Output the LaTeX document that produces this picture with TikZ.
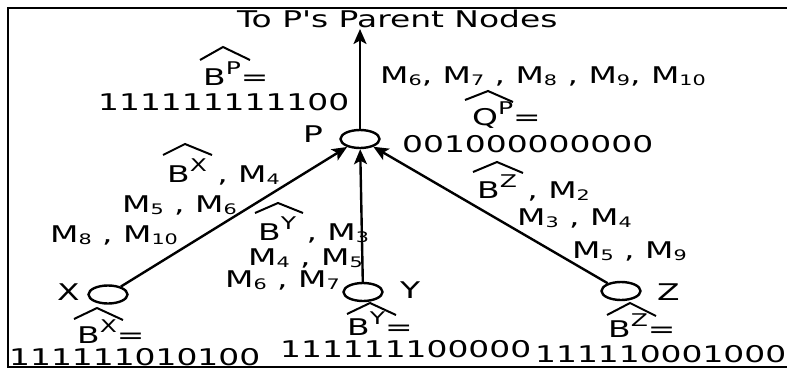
\documentclass[tikz,border=0pt]{standalone}
\usepackage{fontspec}
\newfontfamily\dv[FakeStretch=1.43]{DejaVu Sans}
\usetikzlibrary{shapes.geometric,arrows.meta}
\newcommand\sps[1]{\raisebox{11pt}{\fontsize{17.5}{18}\selectfont #1}}
\newcommand\sbs[1]{\raisebox{-2pt}{\fontsize{14.5}{15}\selectfont #1}}
\tikzset{
  lbl/.style={anchor=base west, inner sep=0pt, font=\dv\fontsize{23}{25}\selectfont},
  vert/.style={ellipse, draw, line width=2.4pt, minimum width=39pt, minimum height=18pt, inner sep=0pt},
  conn/.style={line width=2.4pt, -{Stealth[length=15pt,width=13pt,inset=3.5pt]}},
  hatline/.style={line width=2pt},
  frame/.style={line width=2.5pt}
}
\begin{document}
\begin{tikzpicture}[x=1pt,y=-1pt]
\useasboundingbox (0,0) rectangle (787,370);
\fill[white] (0,0) rectangle (787,370);
% frame
\draw[frame] (787,8) -- (8,8) -- (8,367) -- (787,367);
% vertices
\node[vert] (P) at (360,139) {};
\node[vert] (X) at (108,294.5) {};
\node[vert] (Y) at (363,292) {};
\node[vert] (Z) at (621,291) {};
\coordinate (top) at (360,29);
% connectors
\draw[conn] (P) -- (top);
\draw[conn] (X) -- (P);
\draw[conn] (Y) -- (P);
\draw[conn] (Z) -- (P);
% vertex labels
\node[lbl] (Ptitle) at (237,27) {To P's Parent Nodes};
\node[lbl] (Plbl) at (303,142) {P};
\node[lbl] (Xlbl) at (57,300) {X};
\node[lbl] (Ylbl) at (400,298) {Y};
\node[lbl] (Zlbl) at (657,300) {Z};
% P labels
\node[lbl] (BP) at (203,85) {B\sps{P}=};
\node[lbl] (BPv) at (98,110) {111111111100};
\node[lbl] (Mup) at (380,83) {M\sbs{6}, M\sbs{7} , M\sbs{8} , M\sbs{9}, M\sbs{10}};
\node[lbl] (QP) at (472,125) {Q\sps{P}=};
\node[lbl] (QPv) at (402,152) {001000000000};
% X edge labels
\node[lbl] (xa) at (167,182) {B\sps{X} , M\sbs{4}};
\node[lbl] (xb) at (122,212) {M\sbs{5} , M\sbs{6}};
\node[lbl] (xc) at (50,242) {M\sbs{8} , M\sbs{10}};
% Y edge labels
\node[lbl] (ya) at (258,240) {B\sps{Y} , M\sbs{3}};
\node[lbl] (yb) at (248,265) {M\sbs{4} , M\sbs{5}};
\node[lbl] (yc) at (225,287) {M\sbs{6} , M\sbs{7}};
% Z edge labels
\node[lbl] (za) at (477,198) {B\sps{Z} , M\sbs{2}};
\node[lbl] (zb) at (517,225) {M\sbs{3} , M\sbs{4}};
\node[lbl] (zc) at (572,258) {M\sbs{5} , M\sbs{9}};
% bottom labels
\node[lbl] (BX) at (77,343) {B\sps{X}=};
\node[lbl] (BXv) at (9,365) {111111010100};
\node[lbl] (BY) at (347,335) {B\sps{Y}=};
\node[lbl] (BYv) at (280,357) {111111100000};
\node[lbl] (BZ) at (608,337) {B\sps{Z}=};
\node[lbl] (BZv) at (535,362) {111110001000};
% hats
\draw[hatline] (200,60) -- (223,47) -- (250,60);
\draw[hatline] (465,100) -- (488,91) -- (513,102);
\draw[hatline] (163,155) -- (185,144) -- (212,155);
\draw[hatline] (255,213) -- (278,203) -- (303,213);
\draw[hatline] (473,172) -- (497,162) -- (523,173);
\draw[hatline] (74,319) -- (97,308) -- (123,320);
\draw[hatline] (347,314) -- (370,303) -- (396,315);
\draw[hatline] (607,315) -- (630,303) -- (656,316);
\end{tikzpicture}
\end{document}
